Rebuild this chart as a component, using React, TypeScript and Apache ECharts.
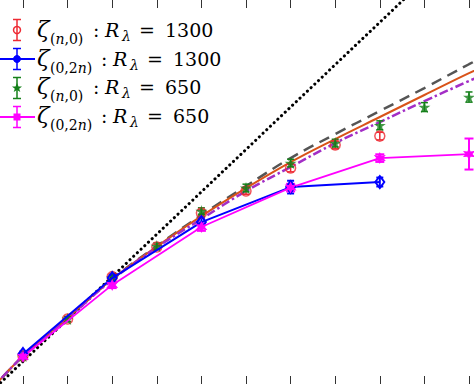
import React, { useEffect, useRef } from "react";
import * as echarts from "echarts";

// x positions (moment order n) and tick values
const nTicks = [1, 2, 3, 4, 5, 6, 7, 8, 9, 10, 11];

// zeta_(n,0), R_lambda = 1300 (red circles)
const nN0R1300 = [1, 2, 3, 4, 5, 6, 7, 8, 9];
const zetaN0R1300 = [0.376, 0.667, 1.0, 1.233, 1.5, 1.673, 1.854, 2.035, 2.105];
const errN0R1300 = [0.02, 0.02, 0.02, 0.02, 0.025, 0.025, 0.03, 0.03, 0.03];

// zeta_(0,2n), R_lambda = 1300 (blue diamonds)
const n02nR1300 = [1, 3, 5, 7, 9];
const zeta02nR1300 = [0.392, 0.989, 1.429, 1.704, 1.744];
const err02nR1300 = [0.02, 0.025, 0.035, 0.05, 0.035];

// zeta_(n,0), R_lambda = 650 (green stars)
const nN0R650 = [1, 2, 3, 4, 5, 6, 7, 8, 9, 10, 11];
const zetaN0R650 = [0.376, 0.667, 0.99, 1.24, 1.516, 1.697, 1.893, 2.05, 2.19, 2.333, 2.412];
const errN0R650 = [0.02, 0.02, 0.02, 0.025, 0.025, 0.03, 0.03, 0.03, 0.035, 0.035, 0.04];

// zeta_(0,2n), R_lambda = 650 (magenta hexagrams)
const n02nR650 = [1, 3, 5, 7, 9, 11];
const zeta02nR650 = [0.37, 0.935, 1.39, 1.7, 1.932, 1.964];
const err02nR650 = [0.02, 0.025, 0.03, 0.03, 0.03, 0.122];

// model curves
const nModel = [0, 1, 2, 3, 4, 5, 6, 7, 8, 9, 10, 11, 12];
const zetaGrayDashed = [0, 0.376, 0.675, 0.981, 1.241, 1.484, 1.712, 1.932, 2.121, 2.302, 2.483, 2.67, 2.85];
const zetaOrange = [0, 0.376, 0.675, 0.981, 1.237, 1.476, 1.696, 1.901, 2.082, 2.255, 2.428, 2.6, 2.76];
const zetaPurple = [0, 0.376, 0.672, 0.975, 1.23, 1.453, 1.673, 1.862, 2.05, 2.215, 2.38, 2.538, 2.69];

// K41 reference (dotted)
const nK41 = [0, 12];
const zetaK41 = [0, 4];

const RED = "#ee2a33";
const BLUE = "#0000ff";
const GREEN = "#15801a";
const MAGENTA = "#ff00ff";
const GRAY = "#555555";
const ORANGE = "#d95319";
const PURPLE = "#a32ec6";

const STAR = "path://M50,0 L61,35 L98,35 L68,57 L79,91 L50,70 L21,91 L32,57 L2,35 L39,35 Z";
const HEX = "path://M50,0 L62,28 L93,25 L75,50 L93,75 L62,72 L50,100 L38,72 L7,75 L25,50 L7,25 L38,28 Z";

function zip(xs: number[], ys: number[]) {
  return xs.map((x, i) => [x, ys[i]]);
}
function zip3(xs: number[], ys: number[], es: number[]) {
  return xs.map((x, i) => [x, ys[i], es[i]]);
}

function errSeries(data: number[][], color: string, hw: number, lw: number) {
  return {
    type: "custom",
    data,
    encode: { x: 0, y: 1 },
    z: 3,
    renderItem: (params: any, api: any) => {
      const x = api.value(0);
      const y = api.value(1);
      const e = api.value(2);
      const lo = api.coord([x, y - e]);
      const hi = api.coord([x, y + e]);
      const st = { stroke: color, lineWidth: lw };
      return {
        type: "group",
        children: [
          { type: "line", shape: { x1: lo[0], y1: lo[1], x2: hi[0], y2: hi[1] }, style: st },
          { type: "line", shape: { x1: lo[0] - hw, y1: lo[1], x2: lo[0] + hw, y2: lo[1] }, style: st },
          { type: "line", shape: { x1: hi[0] - hw, y1: hi[1], x2: hi[0] + hw, y2: hi[1] }, style: st },
        ],
      };
    },
  };
}

const FONT = "DejaVu Serif";

// y given as the text baseline; converted to a middle anchor
function txt(x: number, baseline: number, text: string, size: number, italic: boolean) {
  return {
    type: "text",
    x,
    y: baseline - 0.35 * size,
    style: {
      text,
      fontFamily: FONT,
      fontSize: size,
      fontStyle: italic ? "italic" : "normal",
      fill: "#000",
      align: "left",
      verticalAlign: "middle",
    },
  };
}

function subText(x: number, baseline: number, parts: [string, boolean][], size: number) {
  const rich: any = {
    u: { fontFamily: FONT, fontSize: size, fontStyle: "normal", fill: "#000" },
    i: { fontFamily: FONT, fontSize: size, fontStyle: "italic", fill: "#000" },
  };
  const text = parts.map(([t, it]) => `{${it ? "i" : "u"}|${t}}`).join("");
  return {
    type: "text",
    x,
    y: baseline - 0.35 * size,
    style: { text, rich, align: "left", verticalAlign: "middle" },
  };
}

function legendRow(baseline: number, wide: boolean, value: string) {
  const sub: [string, boolean][] = wide
    ? [["(0,2", false], ["n", true], [")", false]]
    : [["(", false], ["n", true], [",0)", false]];
  const d = wide ? 8 : 0;
  return [
    txt(37, baseline, "ζ", 23, true),
    subText(50, baseline + 7, sub, 14),
    txt(93 + d, baseline, ":", 19, false),
    txt(105 + d, baseline, "R", 19, true),
    txt(122 + d, baseline + 4, "λ", 14, true),
    txt(139 + d, baseline, "=", 19, false),
    txt(165 + d, baseline, value, 19, false),
  ];
}

function errIcon(cx: number, cy: number, color: string, half: number, hw: number) {
  const st = { stroke: color, lineWidth: 1.5 };
  return [
    { type: "line", shape: { x1: cx, y1: cy - half, x2: cx, y2: cy + half }, style: st },
    { type: "line", shape: { x1: cx - hw, y1: cy - half, x2: cx + hw, y2: cy - half }, style: st },
    { type: "line", shape: { x1: cx - hw, y1: cy + half, x2: cx + hw, y2: cy + half }, style: st },
  ];
}

export default function App() {
  const ref = useRef<HTMLDivElement>(null);
  useEffect(() => {
    if (!ref.current) return;
    const chart = echarts.init(ref.current, undefined, { renderer: "svg" });
    const axisCommon = {
      type: "value",
      min: 0.4843,
      max: 11.112,
      axisLine: { show: false },
      axisLabel: { show: false },
      splitLine: { show: false },
      axisTick: {
        show: true,
        inside: true,
        length: 8,
        customValues: nTicks,
        lineStyle: { color: "#333", width: 1 },
      },
    };
    const legendIcons: any[] = [
      ...errIcon(17, 30, RED, 10.5, 4),
      { type: "circle", shape: { cx: 17, cy: 30, r: 3.5 }, style: { fill: "none", stroke: RED, lineWidth: 1.5 } },
      { type: "line", shape: { x1: 0, y1: 59, x2: 35, y2: 59 }, style: { stroke: BLUE, lineWidth: 2 } },
      ...errIcon(17, 59, BLUE, 10.5, 4),
      { type: "circle", shape: { cx: 17, cy: 59, r: 3.5 }, style: { fill: BLUE, stroke: BLUE, lineWidth: 1 } },
      ...errIcon(17, 88, GREEN, 10.5, 4),
      { type: "polygon", shape: { points: [[17, 83], [18.5, 86.5], [22, 86.5], [19.2, 88.7], [20.3, 92], [17, 90], [13.7, 92], [14.8, 88.7], [12, 86.5], [15.5, 86.5]] }, style: { fill: GREEN } },
      { type: "line", shape: { x1: 0, y1: 117, x2: 35, y2: 117 }, style: { stroke: MAGENTA, lineWidth: 2 } },
      ...errIcon(17, 117, MAGENTA, 10.5, 4),
      { type: "rect", shape: { x: 13.5, y: 113.5, width: 7, height: 7 }, style: { fill: MAGENTA } },
    ];
    const option: any = {
      animation: false,
      backgroundColor: "#ffffff",
      grid: { left: 0, right: 0, top: 0, bottom: 0, containLabel: false },
      xAxis: [
        { ...axisCommon, position: "bottom" },
        { ...axisCommon, position: "top" },
      ],
      yAxis: {
        type: "value",
        min: 0.156,
        max: 3.175,
        show: false,
      },
      series: [
        {
          type: "line",
          data: zip(nK41, zetaK41),
          symbol: "none",
          z: 1,
          lineStyle: { color: "#000", width: 3, type: [0.1, 5], cap: "round" },
        },
        {
          type: "line",
          data: zip(nModel, zetaGrayDashed),
          symbol: "none",
          smooth: 0.4,
          z: 2,
          lineStyle: { color: GRAY, width: 2.5, type: [11, 7] },
        },
        {
          type: "line",
          data: zip(nModel, zetaOrange),
          symbol: "none",
          smooth: 0.4,
          z: 2,
          lineStyle: { color: ORANGE, width: 2 },
        },
        {
          type: "line",
          data: zip(nModel, zetaPurple),
          symbol: "none",
          smooth: 0.4,
          z: 2,
          lineStyle: { color: PURPLE, width: 2.5, type: [9, 3, 2.5, 3] },
        },
        errSeries(zip3(nN0R1300, zetaN0R1300, errN0R1300), RED, 3.5, 1.5),
        errSeries(zip3(nN0R650, zetaN0R650, errN0R650), GREEN, 3.5, 1.5),
        errSeries(zip3(n02nR1300, zeta02nR1300, err02nR1300), BLUE, 3.5, 2),
        errSeries(zip3(n02nR650, zeta02nR650, err02nR650), MAGENTA, 4.5, 2),
        {
          type: "scatter",
          data: zip(nN0R1300, zetaN0R1300),
          symbol: "circle",
          symbolSize: 10,
          z: 4,
          itemStyle: { color: "rgba(255,255,255,0)", borderColor: RED, borderWidth: 1.5 },
        },
        {
          type: "scatter",
          data: zip(nN0R650, zetaN0R650),
          symbol: STAR,
          symbolSize: 12,
          z: 4,
          itemStyle: { color: GREEN },
        },
        {
          type: "line",
          data: zip(n02nR1300, zeta02nR1300),
          symbol: "diamond",
          symbolSize: [9, 12],
          showAllSymbol: true,
          z: 5,
          lineStyle: { color: BLUE, width: 2 },
          itemStyle: { color: "rgba(255,255,255,0)", borderColor: BLUE, borderWidth: 2 },
        },
        {
          type: "line",
          data: zip(n02nR650, zeta02nR650),
          symbol: HEX,
          symbolSize: 12,
          showAllSymbol: true,
          z: 5,
          lineStyle: { color: MAGENTA, width: 1.8 },
          itemStyle: { color: MAGENTA },
        },
      ],
      graphic: [
        ...legendIcons,
        ...legendRow(37, false, "1300"),
        ...legendRow(66, true, "1300"),
        ...legendRow(94, false, "650"),
        ...legendRow(123, true, "650"),
      ],
    };
    chart.setOption(option);
    return () => chart.dispose();
  }, []);
  return (
    <div
      ref={ref}
      style={{ position: "absolute", left: 0, top: 0, width: 474, height: 384, background: "#fff" }}
    />
  );
}
